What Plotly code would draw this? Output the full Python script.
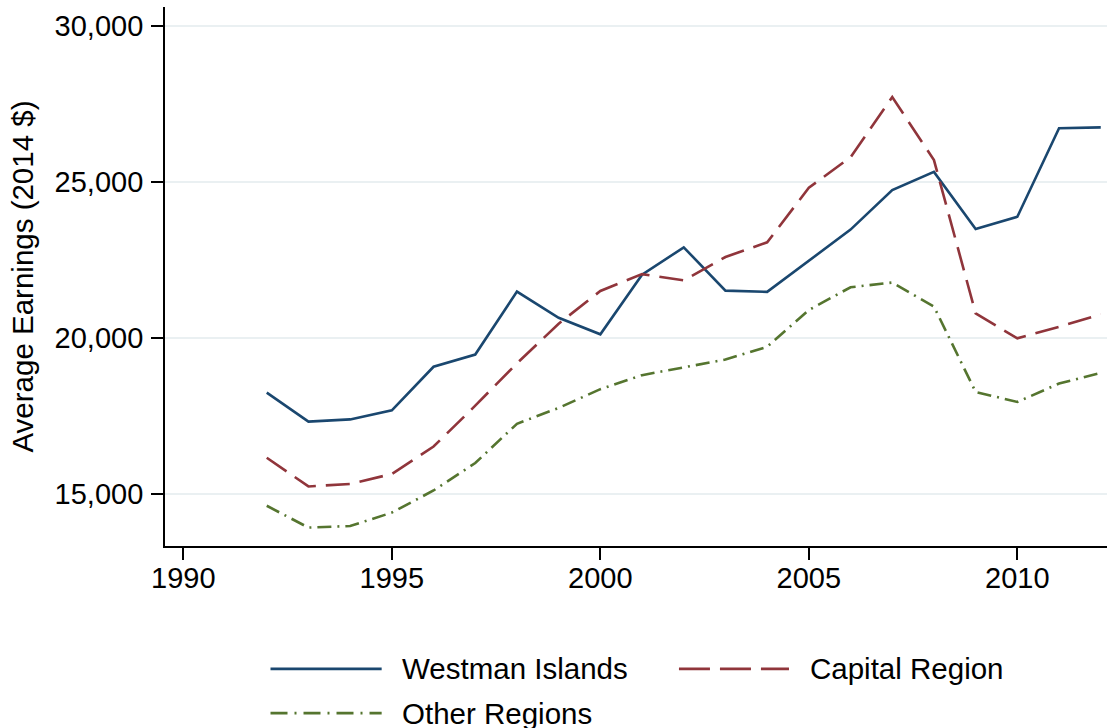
import plotly.graph_objects as go

# average earnings by region, 2014 dollars
years = [1992, 1993, 1994, 1995, 1996, 1997, 1998, 1999, 2000, 2001, 2002,
         2003, 2004, 2005, 2006, 2007, 2008, 2009, 2010, 2011, 2012]
westman = [18240, 17310, 17380, 17670, 19070, 19460, 21480, 20640, 20110, 22020, 22900,
           21510, 21470, 22470, 23470, 24740, 25320, 23490, 23880, 26720, 26750]
capital = [16150, 15230, 15310, 15630, 16510, 17820, 19180, 20450, 21500, 22040, 21840,
           22590, 23060, 24810, 25790, 27720, 25700, 20780, 19980, 20350, 20750]
other = [14610, 13910, 13960, 14390, 15100, 15980, 17240, 17750, 18350, 18800, 19050,
         19300, 19710, 20890, 21620, 21770, 21000, 18260, 17940, 18530, 18870]

series_names = ["Westman Islands", "Capital Region", "Other Regions"]
x_ticks = [1990, 1995, 2000, 2005, 2010]
y_ticks = [15000, 20000, 25000, 30000]
y_tick_labels = ["15,000", "20,000", "25,000", "30,000"]

FONT = "Liberation Sans, Arial, Helvetica, sans-serif"
styles = [
    dict(color="#1a476f", dash="solid", legend_dash="solid"),
    dict(color="#90353b", dash="24px,10px", legend_dash="31px,10px"),
    dict(color="#55752f", dash="14px,6px,2px,6px", legend_dash="17px,7px,2px,7px"),
]

fig = go.Figure()
for name, vals, st in zip(series_names, [westman, capital, other], styles):
    fig.add_trace(go.Scatter(
        x=years, y=vals, name=name, mode="lines",
        line=dict(color=st["color"], width=2.6, dash=st["dash"]),
        showlegend=False,
    ))

# hand-drawn legend (stata style: long line samples, two columns)
legend_pos = [(0.112, 0.230, 0.2495, -0.228),
              (0.5456, 0.6624, 0.6826, -0.228),
              (0.112, 0.230, 0.2495, -0.310)]
for name, st, (x0, x1, xt, yy) in zip(series_names, styles, legend_pos):
    fig.add_shape(type="line", xref="paper", yref="paper",
                  x0=x0, x1=x1, y0=yy, y1=yy,
                  line=dict(color=st["color"], width=2.6, dash=st["legend_dash"]))
    fig.add_annotation(xref="paper", yref="paper", x=xt, y=yy, text=name,
                       showarrow=False, xanchor="left", yanchor="middle",
                       font=dict(size=29.5, color="black", family=FONT))

fig.update_layout(
    width=1107,
    height=728,
    template="plotly_white",
    plot_bgcolor="white",
    paper_bgcolor="white",
    font=dict(family=FONT, size=29, color="black"),
    margin=dict(l=165, r=0, t=7, b=182),
    showlegend=False,
)
fig.update_xaxes(
    range=[1989.56, 2012.15],
    tickvals=x_ticks,
    ticks="outside", ticklen=12, tickwidth=1.5, tickcolor="black",
    showline=True, linecolor="black", linewidth=1.8,
    showgrid=False, zeroline=False,
    tickfont=dict(size=29, color="black"),
    ticklabelstandoff=-7,
)
fig.update_yaxes(
    range=[13319, 30610],
    tickvals=y_ticks, ticktext=y_tick_labels,
    ticks="outside", ticklen=12, tickwidth=1.5, tickcolor="black",
    showline=True, linecolor="black", linewidth=1.8,
    showgrid=True, gridcolor="#eaf0f2", gridwidth=2,
    zeroline=False,
    tickfont=dict(size=29, color="black"),
    ticklabelstandoff=2,
    title=dict(text="Average Earnings (2014 $)", font=dict(size=29.5, color="black"), standoff=12),
)

fig.write_html("out.html", config={"displayModeBar": False},
               post_script="document.body.style.margin='0';")
